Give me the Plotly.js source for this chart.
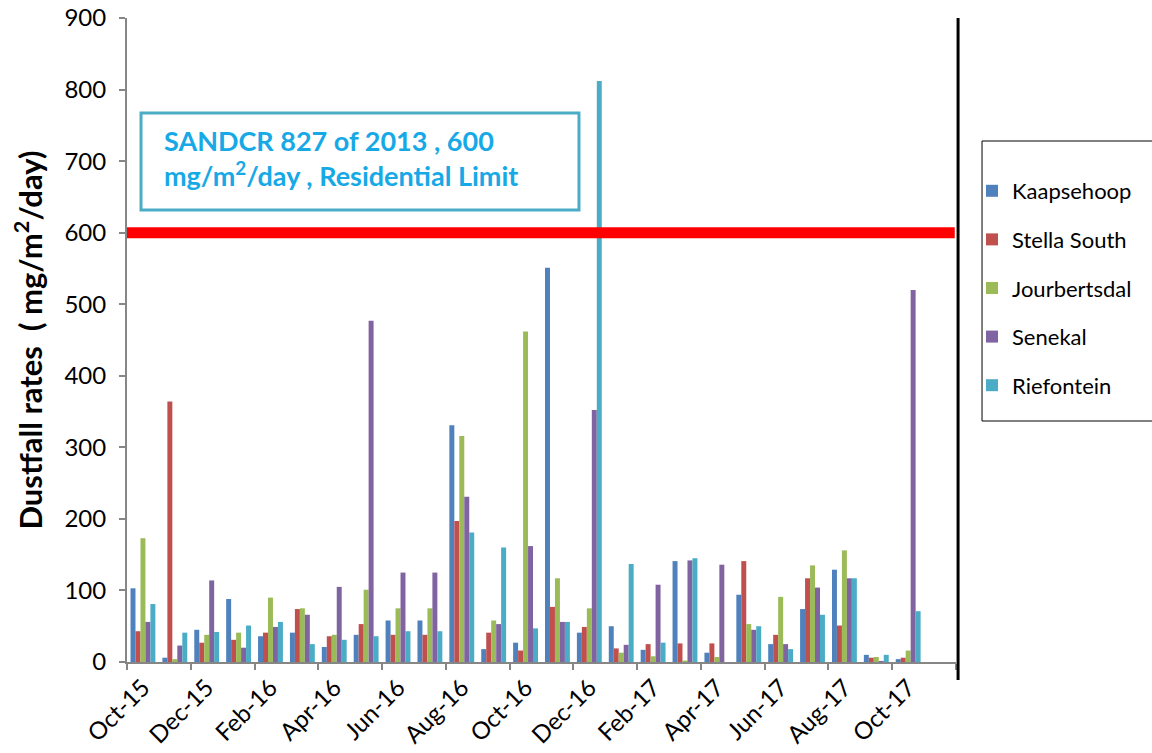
<!DOCTYPE html>
<html>
<head>
<meta charset="utf-8">
<script src="https://cdn.plot.ly/plotly-3.0.1.min.js"></script>
<style>html,body{margin:0;padding:0;background:#fff;}#chart{width:1152px;height:753px;}</style>
</head>
<body>
<div id="chart"></div>
<script>
const months = ["Oct-15","Nov-15","Dec-15","Jan-16","Feb-16","Mar-16","Apr-16","May-16","Jun-16","Jul-16","Aug-16","Sep-16","Oct-16","Nov-16","Dec-16","Jan-17","Feb-17","Mar-17","Apr-17","May-17","Jun-17","Jul-17","Aug-17","Sep-17","Oct-17","Nov-17"];
const kaapsehoop   = [103, 6, 45, 88, 36, 41, 21, 38, 58, 58, 331, 18, 27, 551, 41, 50, 17, 141, 13, 94, 25, 74, 129, 10, 4, null];
const stellaSouth  = [43, 364, 27, 31, 41, 74, 36, 53, 38, 38, 197, 41, 16, 77, 49, 19, 25, 26, 26, 141, 38, 117, 51, 6, 6, null];
const jourbertsdal = [173, 4, 38, 41, 90, 75, 38, 101, 75, 75, 316, 58, 462, 117, 75, 13, 8, 2, 7, 53, 91, 135, 156, 7, 16, null];
const senekal      = [56, 23, 114, 20, 49, 66, 105, 477, 125, 125, 231, 53, 162, 56, 352, 24, 108, 142, 136, 45, 25, 104, 117, 1.5, 520, null];
const riefontein   = [81, 41, 42, 51, 56, 25, 31, 36, 43, 43, 181, 160, 47, 56, 812, 137, 27, 145, null, 50, 18, 66, 117, 10, 71, null];
const seriesNames  = ["Kaapsehoop", "Stella South", "Jourbertsdal", "Senekal", "Riefontein"];
const limitValue = 600;
const limitText = "SANDCR 827 of 2013 , 600<br>mg/m<sup>2</sup>/day , Residential Limit";

const colors = ["#4F81BD", "#C0504D", "#9BBB59", "#8064A2", "#4BACC6"];
const allSeries = [kaapsehoop, stellaSouth, jourbertsdal, senekal, riefontein];
const xIdx = months.map((m, i) => i);

const traces = allSeries.map((vals, k) => ({
  type: "bar",
  name: seriesNames[k],
  x: xIdx,
  y: vals,
  marker: { color: colors[k], line: { width: 0 } },
  legendgroup: "g" + k,
  hoverinfo: "name+y"
}));

const labelVals = xIdx.filter(i => i % 2 === 0);
const labelText = labelVals.map(i => months[i]);
const boundaries = [];
for (let i = 0; i <= months.length; i += 2) boundaries.push(i - 0.5);

const layout = {
  width: 1152, height: 753,
  margin: { l: 127, r: 196, t: 18, b: 91, pad: 0 },
  paper_bgcolor: "#fff", plot_bgcolor: "#fff",
  font: { family: "Lato, 'Open Sans', sans-serif", color: "#000", size: 20 },
  barmode: "group", bargap: 0.22, bargroupgap: 0,
  showlegend: true,
  legend: {
    x: 1.0193, xanchor: "left", y: 0.764, yanchor: "top",
    bgcolor: "rgba(0,0,0,0)", borderwidth: 0,
    font: { size: 22, color: "#000" },
    tracegroupgap: 17, traceorder: "grouped"
  },
  xaxis: {
    range: [-0.5, months.length - 0.5],
    tickmode: "array", tickvals: labelVals, ticktext: labelText,
    tickangle: -45, tickfont: { size: 24, color: "#000" },
    ticks: "",
    minor: { tickmode: "array", tickvals: boundaries, ticks: "outside", ticklen: 6, tickwidth: 2, tickcolor: "#868686", showgrid: false },
    showline: true, linecolor: "#868686", linewidth: 2,
    showgrid: false, zeroline: false, fixedrange: true
  },
  yaxis: {
    range: [0, 900], dtick: 100, tick0: 0,
    ticks: "outside", ticklen: 6, tickwidth: 2, tickcolor: "#868686",
    tickfont: { size: 24, color: "#000" }, ticklabelstandoff: 8,
    showline: true, linecolor: "#868686", linewidth: 2,
    showgrid: false, zeroline: false,
    title: { text: "<b>Dustfall rates  ( mg/m<sup>2</sup>/day)</b>", font: { size: 31, color: "#000" }, standoff: 13 }
  },
  shapes: [
    { type: "line", xref: "paper", x0: 0, x1: 0.9985, yref: "y", y0: limitValue, y1: limitValue,
      line: { color: "#FF0000", width: 11 }, layer: "above" },
    { type: "line", xref: "paper", x0: 1.0025, x1: 1.0025, yref: "paper", y0: 1.0, y1: -0.028,
      line: { color: "#000", width: 3 }, layer: "above" },
    { type: "rect", xref: "paper", yref: "paper", x0: 1.0314, x1: 1.26, y0: 0.3742, y1: 0.809,
      line: { color: "#000", width: 1 }, fillcolor: "rgba(0,0,0,0)", layer: "above" },
    { type: "rect", xref: "paper", yref: "paper", x0: 0.01689, x1: 0.5452, y0: 0.7019, y1: 0.8525,
      line: { color: "#4BACC6", width: 3 }, fillcolor: "#fff", layer: "above" }
  ],
  annotations: [
    { xref: "paper", yref: "paper", x: 0.0422, y: 0.7826, xanchor: "left", yanchor: "middle",
      text: "<b>" + limitText + "</b>", showarrow: false, align: "left",
      font: { size: 27, color: "#17A9E6" } }
  ]
};

Plotly.newPlot("chart", traces, layout, { displayModeBar: false, staticPlot: true });
</script>
</body>
</html>
